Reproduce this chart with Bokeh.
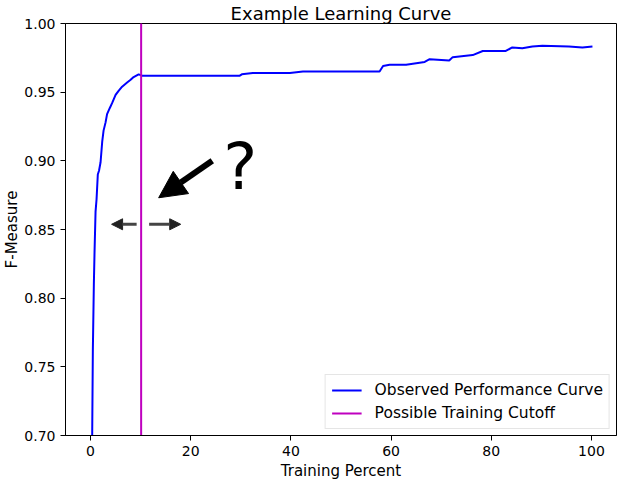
from bokeh.plotting import figure
from bokeh.models import (Range1d, FixedTicker, NumeralTickFormatter, Label, Arrow,
                          NormalHead, Legend, LegendItem)
from bokeh.embed import file_html
from bokeh.resources import INLINE

# ---------------- data ----------------
training_percent = [0.2, 0.33, 0.46, 0.66, 0.80, 1.0, 1.2, 1.45, 1.7, 2.0, 2.33, 2.6,
                    3.0, 3.3, 3.85, 4.3, 5.0, 5.6, 6.3, 7.3, 8.0, 8.6, 9.6, 10.3,
                    15.0, 20.0, 25.0, 29.8, 30.2, 32.4, 39.8, 42.4, 50.0, 55.7, 57.7,
                    58.4, 59.7, 63.0, 66.7, 67.7, 71.6, 72.3, 76.3, 78.3, 82.9, 84.2,
                    86.2, 88.2, 90.2, 95.5, 98.2, 100.2]
f_measure = [0.62, 0.701, 0.762, 0.810, 0.834, 0.863, 0.872, 0.890, 0.893, 0.899, 0.914,
             0.922, 0.928, 0.934, 0.9385, 0.942, 0.948, 0.951, 0.954, 0.957, 0.959,
             0.961, 0.963, 0.962, 0.962, 0.962, 0.962, 0.962, 0.963, 0.964, 0.964,
             0.965, 0.965, 0.965, 0.965, 0.969, 0.970, 0.970, 0.972, 0.974, 0.973,
             0.9755, 0.977, 0.980, 0.980, 0.9826, 0.982, 0.9833, 0.9838, 0.9833,
             0.9826, 0.9833]
cutoff_percent = 10.1
cutoff_span = [0.0, 2.0]

x_ticks = [0, 20, 40, 60, 80, 100]
y_ticks = [0.70, 0.75, 0.80, 0.85, 0.90, 0.95, 1.00]

title_text = "Example Learning Curve"
x_label = "Training Percent"
y_label = "F-Measure"
legend_labels = ["Observed Performance Curve", "Possible Training Cutoff"]

# annotation anchors (data units)
big_arrow = dict(x_start=24.3, y_start=0.900, x_end=13.6, y_end=0.8731)
left_arrow = dict(x_start=9.2, y_start=0.8538, x_end=4.2, y_end=0.8538)
right_arrow = dict(x_start=11.7, y_start=0.8538, x_end=18.0, y_end=0.8538)
question_pos = (29.9, 0.8794)

FONT = "DejaVu Sans"

p = figure(width=620, height=482, output_backend="svg", toolbar_location=None,
           x_range=Range1d(-5, 105), y_range=Range1d(0.70, 1.00),
           title=title_text,
           min_border_left=65, min_border_right=4, min_border_top=22,
           min_border_bottom=47)
p.title.align = "center"
p.title.text_font = FONT
p.title.text_font_size = "18px"
p.title.text_font_style = "normal"
p.title.text_color = "black"
p.title.standoff = 0

p.background_fill_color = "white"
p.border_fill_color = "white"
p.outline_line_color = "black"
p.outline_line_width = 1
p.outline_line_alpha = 1
p.xgrid.grid_line_color = None
p.ygrid.grid_line_color = None

for ax in (p.xaxis, p.yaxis):
    ax.axis_line_color = "black"
    ax.major_tick_line_color = "black"
    ax.major_tick_out = 5
    ax.major_tick_in = 0
    ax.minor_tick_out = 0
    ax.minor_tick_in = 0
    ax.major_label_text_font = FONT
    ax.major_label_text_font_size = "14px"
    ax.major_label_text_color = "black"
    ax.major_label_standoff = 5
    ax.axis_label_text_font = FONT
    ax.axis_label_text_font_size = "15px"
    ax.axis_label_text_font_style = "normal"
    ax.axis_label_text_color = "black"

p.xaxis.ticker = FixedTicker(ticks=x_ticks)
p.yaxis.ticker = FixedTicker(ticks=y_ticks)
p.yaxis.formatter = NumeralTickFormatter(format="0.00")
p.xaxis.axis_label = x_label
p.yaxis.axis_label = y_label
p.xaxis.axis_label_standoff = 3
p.yaxis.axis_label_standoff = 0

r_curve = p.line(training_percent, f_measure, line_color="#0000ff", line_width=2)
r_cut = p.line([cutoff_percent, cutoff_percent], cutoff_span, line_color="#bf00bf",
               line_width=2)

legend = Legend(items=[LegendItem(label=legend_labels[0], renderers=[r_curve]),
                       LegendItem(label=legend_labels[1], renderers=[r_cut])],
                location="bottom_right", margin=6, padding=6, spacing=5,
                glyph_width=30, glyph_height=16, label_height=16, label_standoff=13,
                label_text_font=FONT, label_text_font_size="15.5px",
                label_text_color="black",
                border_line_color="#cccccc", border_line_width=1,
                background_fill_color="white", background_fill_alpha=0.8)
p.add_layout(legend)

p.add_layout(Arrow(end=NormalHead(size=27, fill_color="black", line_color="black"),
                   line_color="black", line_width=6, **big_arrow))
p.add_layout(Arrow(end=NormalHead(size=11, fill_color="#222222", line_color="#222222"),
                   line_color="#444444", line_width=3, **left_arrow))
p.add_layout(Arrow(end=NormalHead(size=11, fill_color="#222222", line_color="#222222"),
                   line_color="#444444", line_width=3, **right_arrow))

p.add_layout(Label(x=question_pos[0], y=question_pos[1], y_offset=22, text="?",
                   text_font=FONT, text_font_size="64px", text_color="black",
                   text_align="center", text_baseline="alphabetic"))

open("out.html", "w").write(file_html(p, INLINE))
